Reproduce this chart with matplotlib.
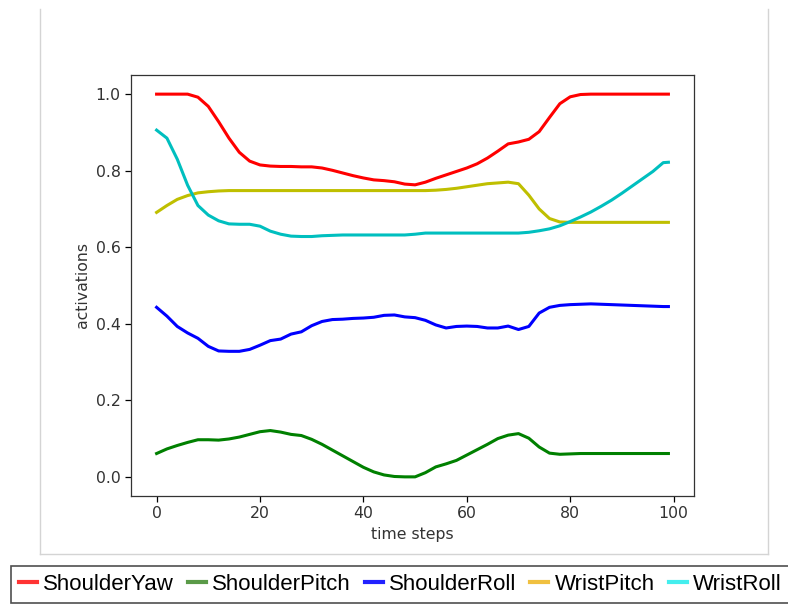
import matplotlib
matplotlib.use('Agg')
import matplotlib.pyplot as plt
from matplotlib.lines import Line2D

# time steps (every 2nd step, plus the last one)
steps = list(range(0, 100, 2)) + [99]

shoulder_yaw = [1.0, 1.0, 1.0, 1.0, 0.992, 0.968, 0.928, 0.885, 0.848, 0.825,
                0.815, 0.812, 0.811, 0.811, 0.81, 0.81, 0.807, 0.801, 0.794,
                0.787, 0.781, 0.776, 0.774, 0.771, 0.765, 0.763, 0.77, 0.78,
                0.789, 0.798, 0.807, 0.818, 0.833, 0.851, 0.87, 0.875, 0.882,
                0.902, 0.939, 0.975, 0.993, 0.999, 1.0, 1.0, 1.0, 1.0, 1.0,
                1.0, 1.0, 1.0, 1.0]

shoulder_pitch = [0.061, 0.073, 0.082, 0.09, 0.097, 0.097, 0.096, 0.099,
                  0.104, 0.111, 0.118, 0.121, 0.117, 0.111, 0.108, 0.098,
                  0.085, 0.07, 0.055, 0.04, 0.025, 0.013, 0.005, 0.001, 0.0,
                  0.0, 0.011, 0.026, 0.034, 0.043, 0.057, 0.071, 0.085, 0.1,
                  0.109, 0.113, 0.101, 0.078, 0.062, 0.059, 0.06, 0.061,
                  0.061, 0.061, 0.061, 0.061, 0.061, 0.061, 0.061, 0.061,
                  0.061]

shoulder_roll = [0.443, 0.42, 0.393, 0.376, 0.362, 0.341, 0.329, 0.328,
                 0.328, 0.333, 0.344, 0.356, 0.36, 0.373, 0.379, 0.395, 0.406,
                 0.411, 0.412, 0.414, 0.415, 0.417, 0.422, 0.423, 0.418,
                 0.416, 0.409, 0.397, 0.389, 0.393, 0.394, 0.393, 0.389,
                 0.389, 0.394, 0.385, 0.393, 0.428, 0.443, 0.448, 0.45, 0.451,
                 0.452, 0.451, 0.45, 0.449, 0.448, 0.447, 0.446, 0.445, 0.445]

wrist_pitch = [0.691, 0.709, 0.725, 0.735, 0.742, 0.745, 0.747, 0.748, 0.748,
               0.748, 0.748, 0.748, 0.748, 0.748, 0.748, 0.748, 0.748, 0.748,
               0.748, 0.748, 0.748, 0.748, 0.748, 0.748, 0.748, 0.748, 0.748,
               0.749, 0.751, 0.754, 0.758, 0.762, 0.766, 0.768, 0.77, 0.766,
               0.736, 0.7, 0.675, 0.666, 0.665, 0.665, 0.665, 0.665, 0.665,
               0.665, 0.665, 0.665, 0.665, 0.665, 0.665]

wrist_roll = [0.906, 0.885, 0.83, 0.762, 0.709, 0.684, 0.669, 0.661, 0.66,
              0.66, 0.655, 0.642, 0.634, 0.629, 0.628, 0.628, 0.63, 0.631,
              0.632, 0.632, 0.632, 0.632, 0.632, 0.632, 0.632, 0.634, 0.637,
              0.637, 0.637, 0.637, 0.637, 0.637, 0.637, 0.637, 0.637, 0.637,
              0.639, 0.643, 0.648, 0.656, 0.667, 0.679, 0.692, 0.707, 0.723,
              0.741, 0.76, 0.779, 0.798, 0.821, 0.822]

labels = ['ShoulderYaw', 'ShoulderPitch', 'ShoulderRoll', 'WristPitch', 'WristRoll']
line_colors = ['r', 'g', 'b', 'y', 'c']
legend_colors = ['#ff3333', '#5a9a48', '#2222ff', '#f0c040', '#44eeee']

fig = plt.figure(figsize=(7.88, 6.04), dpi=100)
ax = fig.add_axes([131 / 788, 1 - 496 / 604, 563 / 788, 421 / 604])

series = [shoulder_yaw, shoulder_pitch, shoulder_roll, wrist_pitch, wrist_roll]
for vals, c in zip(series, line_colors):
    ax.plot(steps, vals, color=c, linewidth=2.2)

ax.set_xlabel('time steps', fontsize=11.3, color='#333333')
ax.set_ylabel('activations', fontsize=11.3, color='#333333')
ax.tick_params(labelsize=11.3, length=4, width=0.9, labelcolor='#333333')
for s in ax.spines.values():
    s.set_linewidth(0.9)
    s.set_color('#333333')

# light grey panel frame around the original figure
frame_col = '#d4d4d4'
fig.add_artist(Line2D([39.5 / 788, 39.5 / 788], [1 - 9 / 604, 1 - 554 / 604],
                      color=frame_col, linewidth=1))
fig.add_artist(Line2D([767.5 / 788, 767.5 / 788], [1 - 9 / 604, 1 - 554 / 604],
                      color=frame_col, linewidth=1))
fig.add_artist(Line2D([39.5 / 788, 767.5 / 788], [1 - 554 / 604, 1 - 554 / 604],
                      color=frame_col, linewidth=1))

# legend strip under the chart
handles = [Line2D([], [], color=c, linewidth=3) for c in legend_colors]
leg = fig.legend(handles, labels, loc='upper left',
                 bbox_to_anchor=(11 / 788, 1 - 566 / 604), ncol=5,
                 prop={'family': 'Liberation Sans', 'size': 16},
                 handlelength=0.8, handletextpad=0.3, columnspacing=0.62,
                 borderpad=0.35, borderaxespad=0, fancybox=False,
                 frameon=True)
leg.get_frame().set_edgecolor('#222222')
leg.get_frame().set_linewidth(1.2)

fig.savefig('out.png', dpi=100)
